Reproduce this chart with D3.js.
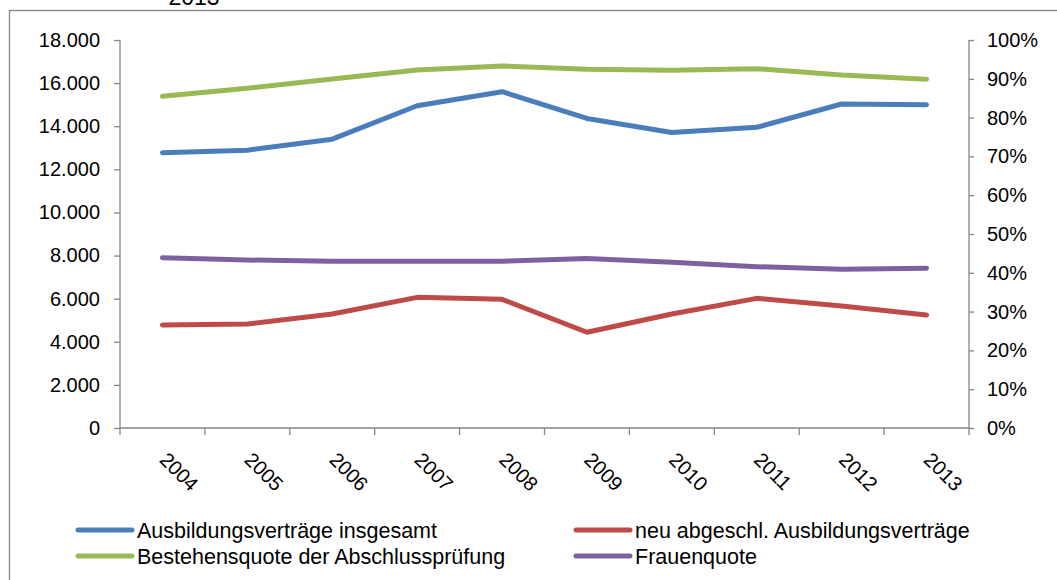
<!DOCTYPE html>
<html>
<head>
<meta charset="utf-8">
<script src="https://cdn.jsdelivr.net/npm/d3@7"></script>
<style>
  html, body { margin: 0; padding: 0; background: #fff; }
  svg { display: block; font-family: "Liberation Sans", Arial, sans-serif; }
</style>
</head>
<body>
<svg id="chart" width="1057" height="580"></svg>
<script>
// Jahre der Auswertung
const years = ["2004", "2005", "2006", "2007", "2008", "2009", "2010", "2011", "2012", "2013"];

// Anzahl (linke Achse)
const vertraegeGesamt = [12770, 12890, 13400, 14950, 15600, 14360, 13710, 13950, 15030, 15000];
const neuAbgeschlossen = [4780, 4825, 5290, 6060, 5970, 4440, 5290, 6015, 5660, 5240];

// Quoten (rechte Achse)
const bestehensquote = [0.855, 0.8755, 0.8995, 0.9227, 0.933, 0.9245, 0.922, 0.926, 0.910, 0.899];
const frauenquote = [0.439, 0.433, 0.4296, 0.4296, 0.4296, 0.437, 0.427, 0.4158, 0.409, 0.4115];

// Achsenbeschriftungen
const leftTicks = [0, 2000, 4000, 6000, 8000, 10000, 12000, 14000, 16000, 18000];
const rightTicks = [0, 0.1, 0.2, 0.3, 0.4, 0.5, 0.6, 0.7, 0.8, 0.9, 1.0];

const seriesNames = [
  "Ausbildungsverträge insgesamt",
  "neu abgeschl. Ausbildungsverträge",
  "Bestehensquote der Abschlussprüfung",
  "Frauenquote"
];
const seriesColors = ["#4a7ebb", "#be4b48", "#98b954", "#7d60a0"];

const svg = d3.select("#chart");
const axisColor = "#868686";

const x = d3.scaleBand().domain(years).range([120, 969]).padding(0);
const yLeft = d3.scaleLinear().domain([0, 18000]).range([428, 40]);
const yRight = d3.scaleLinear().domain([0, 1]).range([428, 40]);

const de = d3.formatLocale({ decimal: ",", thousands: ".", grouping: [3], currency: ["", " €"] });
const fmtNum = de.format(",d");
const fmtPct = de.format(".0%");

// Rahmen des Diagrammbereichs
svg.append("rect")
  .attr("x", 9.5).attr("y", 10.5)
  .attr("width", 1100).attr("height", 600)
  .attr("fill", "none").attr("stroke", axisColor).attr("stroke-width", 1.3);

// Titelzeile (oben angeschnitten)
svg.append("text")
  .attr("x", 194).attr("y", 5)
  .attr("text-anchor", "middle")
  .attr("font-size", 23)
  .attr("fill", "#000")
  .text("2013");

// Linke Achse
const gLeft = svg.append("g")
  .attr("transform", "translate(120,0)")
  .call(d3.axisLeft(yLeft).tickValues(leftTicks).tickFormat(fmtNum).tickSize(6).tickPadding(14).tickSizeOuter(0));

// Rechte Achse
const gRight = svg.append("g")
  .attr("transform", "translate(969,0)")
  .call(d3.axisRight(yRight).tickValues(rightTicks).tickFormat(fmtPct).tickSize(5).tickPadding(13).tickSizeOuter(0));

// X-Achse mit Teilstrichen an den Kategoriegrenzen
const boundaries = years.map(d => x(d)).concat([x(years[years.length - 1]) + x.bandwidth()]);
const gX = svg.append("g");
gX.append("line")
  .attr("x1", 120).attr("x2", 969)
  .attr("y1", 428).attr("y2", 428)
  .attr("stroke", axisColor).attr("stroke-width", 1.3);
gX.selectAll("line.tick")
  .data(boundaries)
  .join("line")
  .attr("class", "tick")
  .attr("x1", d => d).attr("x2", d => d)
  .attr("y1", 428).attr("y2", 435)
  .attr("stroke", axisColor).attr("stroke-width", 1.3);
gX.selectAll("text")
  .data(years)
  .join("text")
  .attr("transform", d => `translate(${x(d) + x.bandwidth() / 2 - 4},461) rotate(45)`)
  .attr("text-anchor", "start")
  .attr("font-size", 20)
  .attr("fill", "#000")
  .text(d => d);

[gLeft, gRight].forEach(g => {
  g.select(".domain").attr("stroke", axisColor).attr("stroke-width", 1.3);
  g.selectAll(".tick line").attr("stroke", axisColor).attr("stroke-width", 1.3);
  g.selectAll(".tick text").attr("font-size", 20).attr("fill", "#000")
    .attr("font-family", "'Liberation Sans', Arial, sans-serif");
});
gLeft.select(".domain").attr("d", "M0,40V428");
gRight.select(".domain").attr("d", "M0,40V428");

// Linien
const cx = d => x(d) + x.bandwidth() / 2;
const lineLeft = d3.line().x((v, i) => cx(years[i])).y(v => yLeft(v));
const lineRight = d3.line().x((v, i) => cx(years[i])).y(v => yRight(v));

const series = [
  { values: bestehensquote, gen: lineRight, color: seriesColors[2] },
  { values: vertraegeGesamt, gen: lineLeft, color: seriesColors[0] },
  { values: frauenquote, gen: lineRight, color: seriesColors[3] },
  { values: neuAbgeschlossen, gen: lineLeft, color: seriesColors[1] }
];
svg.append("g").selectAll("path")
  .data(series)
  .join("path")
  .attr("d", s => s.gen(s.values))
  .attr("fill", "none")
  .attr("stroke", s => s.color)
  .attr("stroke-width", 5)
  .attr("stroke-linejoin", "round")
  .attr("stroke-linecap", "round");

// Legende
const legendItems = [
  { name: seriesNames[0], color: seriesColors[0], x: 78, y: 530 },
  { name: seriesNames[1], color: seriesColors[1], x: 576, y: 530 },
  { name: seriesNames[2], color: seriesColors[2], x: 78, y: 556 },
  { name: seriesNames[3], color: seriesColors[3], x: 576, y: 556 }
];
const lg = svg.append("g").selectAll("g")
  .data(legendItems)
  .join("g")
  .attr("transform", d => `translate(${d.x},${d.y})`);
lg.append("line")
  .attr("x1", 0).attr("x2", 54)
  .attr("y1", 0).attr("y2", 0)
  .attr("stroke", d => d.color)
  .attr("stroke-width", 5)
  .attr("stroke-linecap", "round");
lg.append("text")
  .attr("x", 59).attr("y", 7.5)
  .attr("font-size", 21.5)
  .attr("fill", "#000")
  .text(d => d.name);
</script>
</body>
</html>
